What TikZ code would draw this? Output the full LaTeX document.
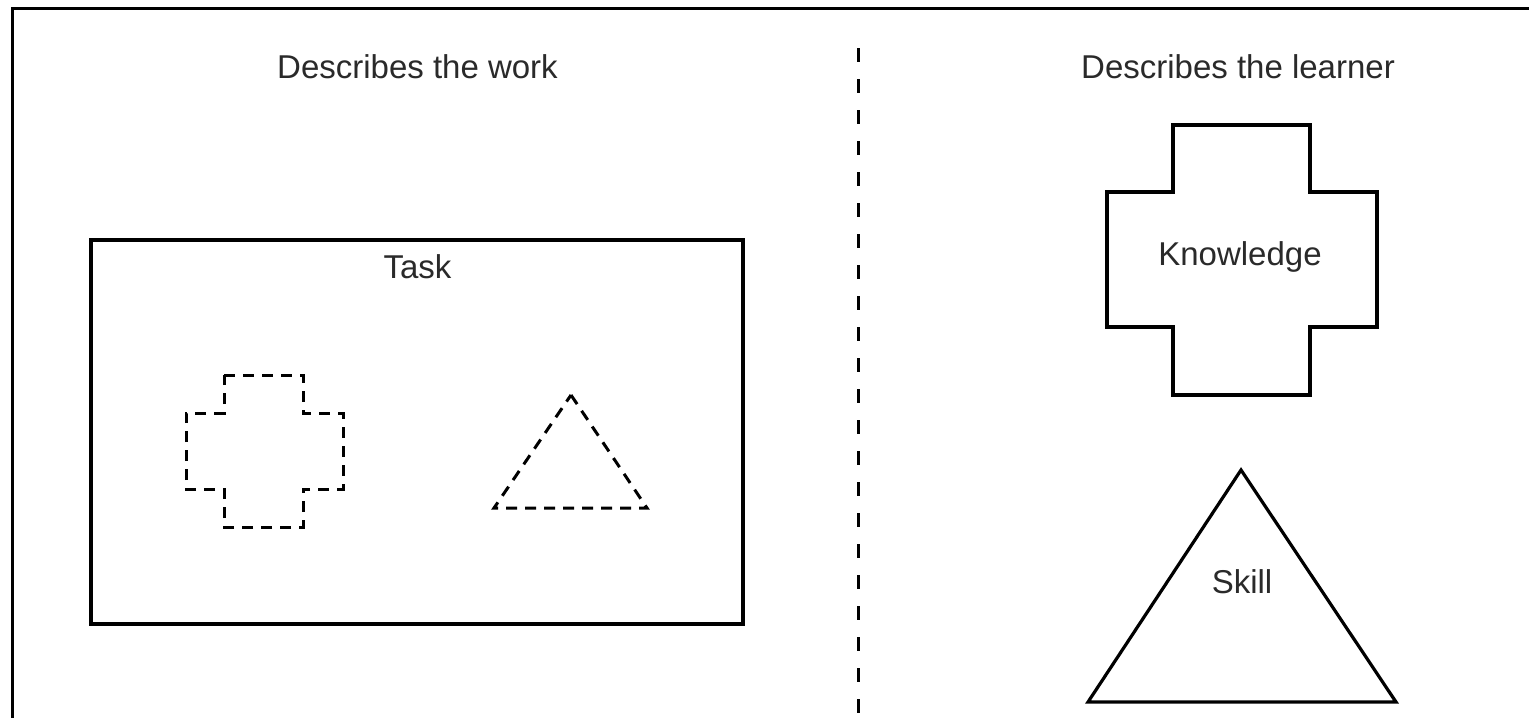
\documentclass[tikz,border=0pt]{standalone}
\usepackage{fontspec}
\setmainfont{Liberation Sans}
\definecolor{txt}{HTML}{2A2A2A}
\begin{document}
\begin{tikzpicture}[x=1pt,y=-1pt,
  line/.style={draw=black,line width=3.2pt},
  dline/.style={draw=black,line width=3pt,dash pattern=on 11pt off 8pt},
  lbl/.style={anchor=base,inner sep=0pt,text=txt,font=\fontsize{33}{40}\selectfont}]
\useasboundingbox (0,0) rectangle (1529,718);
\fill[white] (0,0) rectangle (1529,718);
% outer frame (only top and left edges visible)
\draw[line,line width=3.6pt] (1529,8.5) -- (12.5,8.5) -- (12.5,718);
% headings
\node[lbl] (work) at (417.5,78) {Describes the work};
\node[lbl] (learner) at (1238,78) {Describes the learner};
% divider
\draw[black,line width=3pt,dash pattern=on 14pt off 17pt] (858,48) -- (858,718);
% task box
\draw[line] (91,240) rectangle (743,624);
\node[lbl] (task) at (417.5,278) {Task};
% dashed cross
\draw[dline] (224,375) -- (303,375) -- (303,413) -- (343,413) -- (343,489) -- (303,489)
  -- (303,527) -- (224,527) -- (224,489) -- (186,489) -- (186,413) -- (224,413) -- cycle;
% dashed triangle
\draw[dline,line join=miter] (571,395) -- (647,508) -- (494,508) -- cycle;
% knowledge cross
\draw[line] (1173,125) -- (1310,125) -- (1310,192) -- (1377,192) -- (1377,327) -- (1310,327)
  -- (1310,395) -- (1173,395) -- (1173,327) -- (1107,327) -- (1107,192) -- (1173,192) -- cycle;
\node[lbl] (knowledge) at (1240,265) {Knowledge};
% skill triangle
\draw[line,line join=miter] (1241,470) -- (1396,702) -- (1088,702) -- cycle;
\node[lbl] (skill) at (1242,593) {Skill};
\end{tikzpicture}
\end{document}
